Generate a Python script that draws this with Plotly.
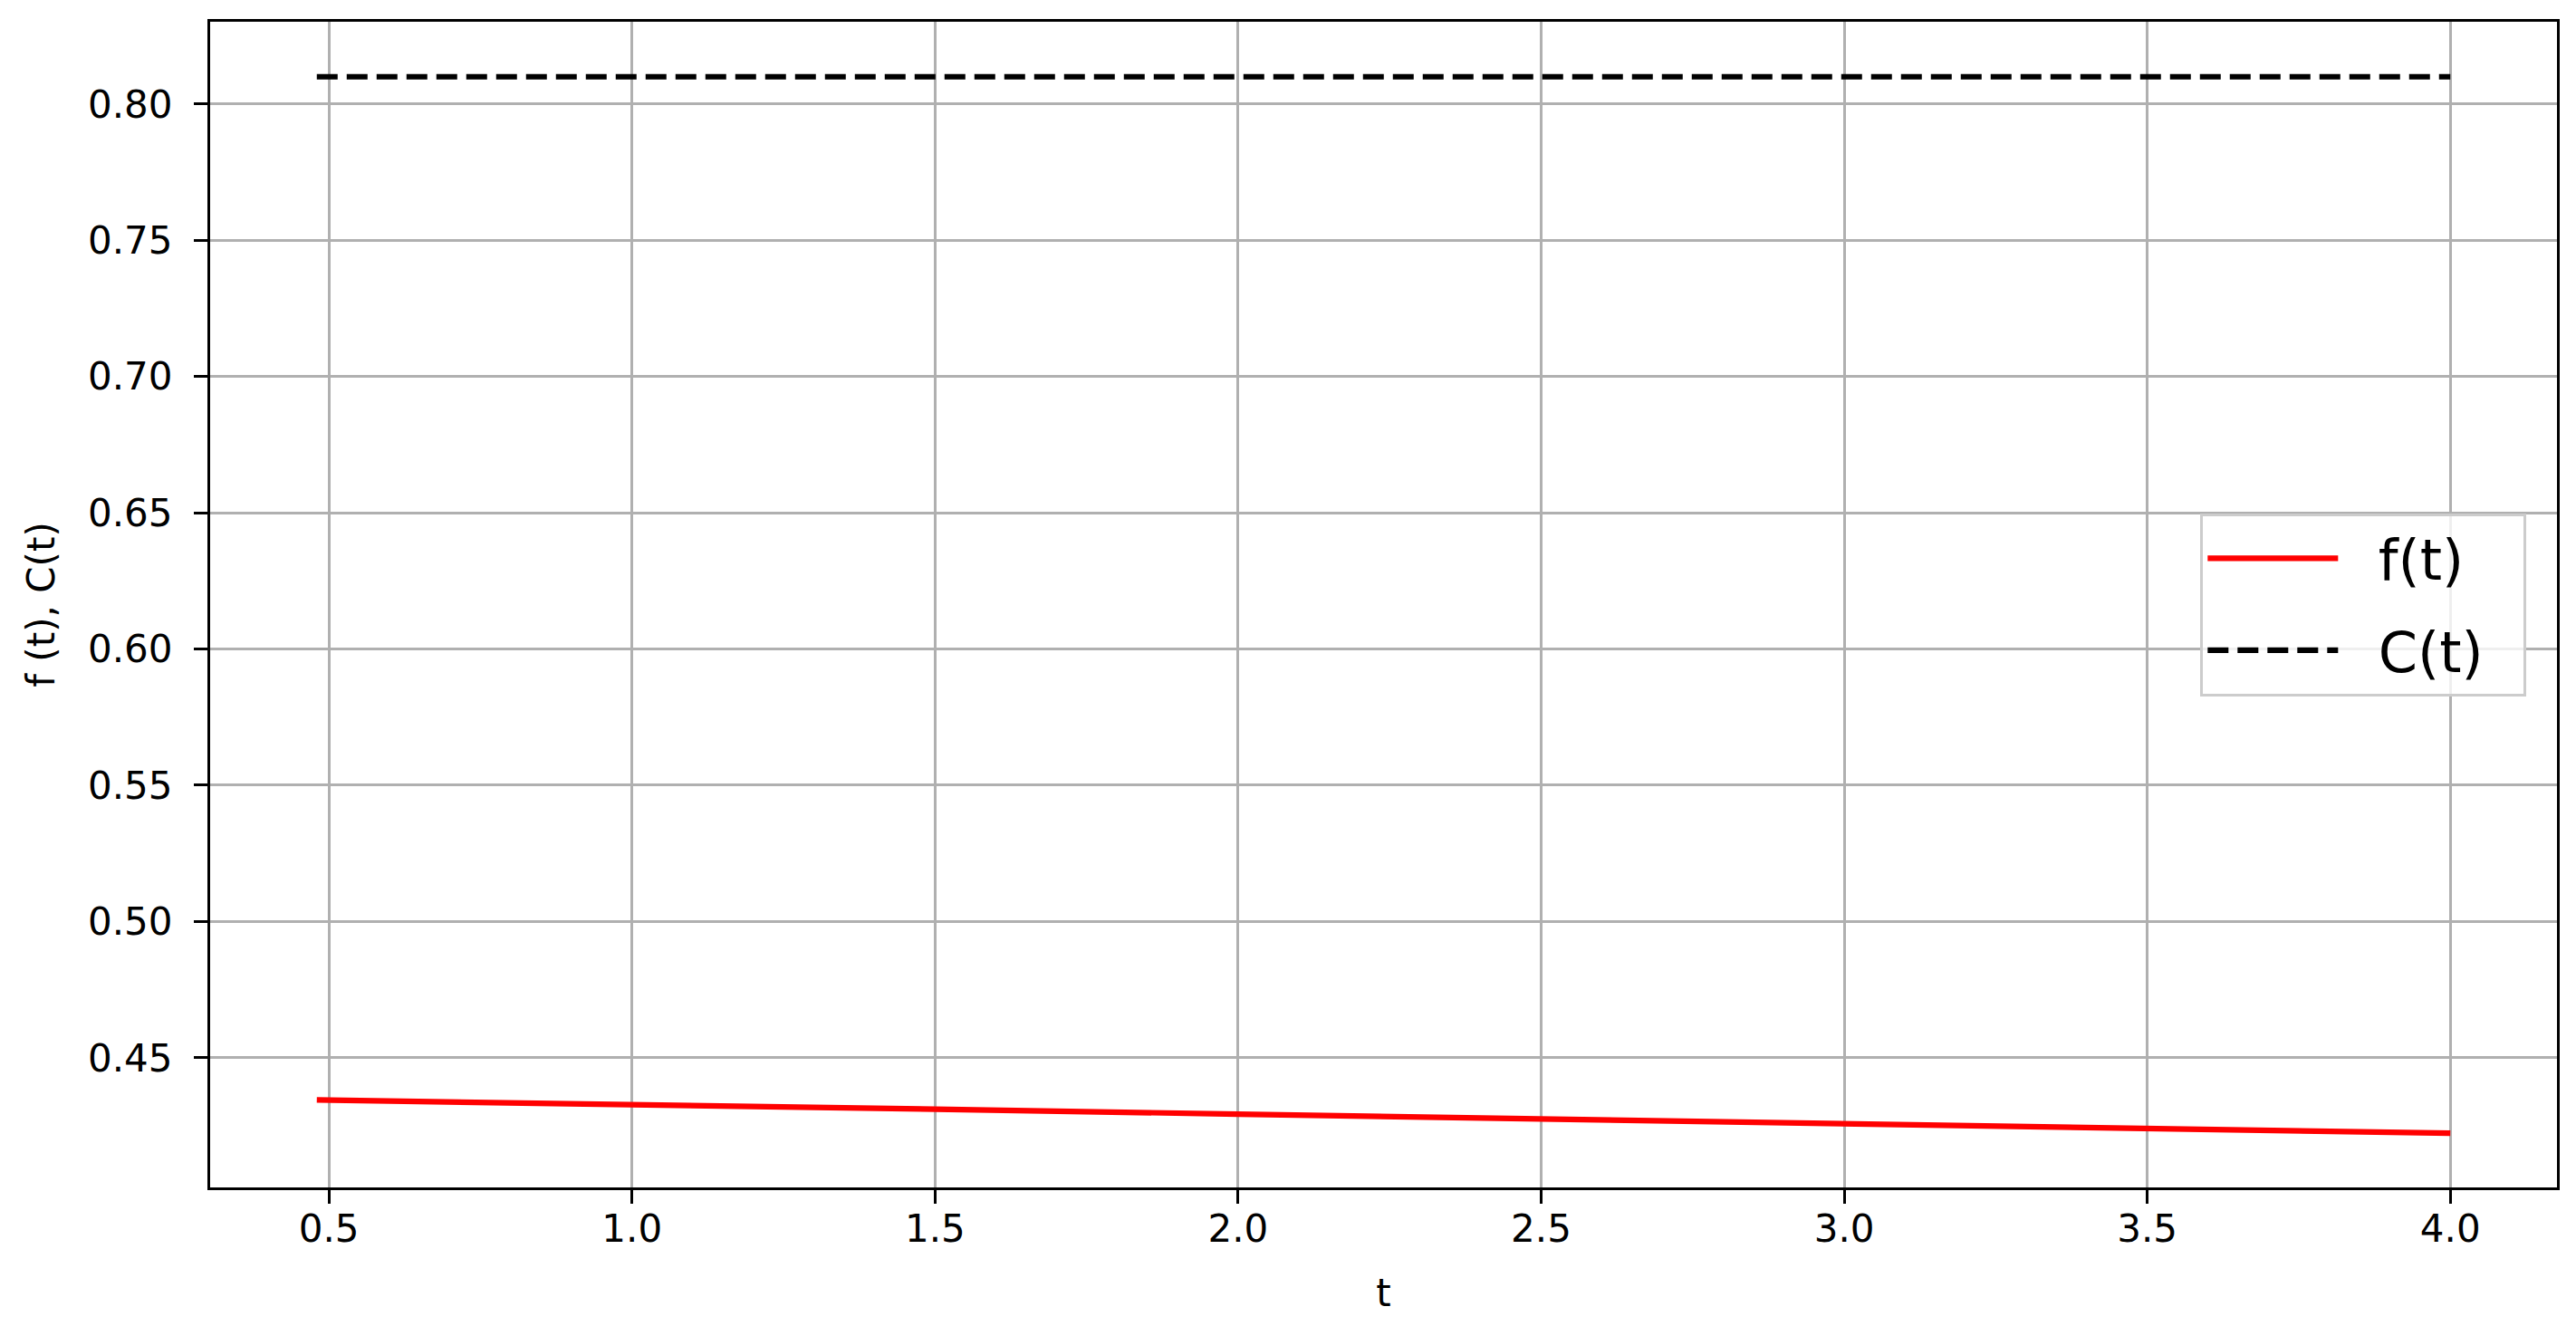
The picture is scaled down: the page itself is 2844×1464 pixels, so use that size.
import plotly.graph_objects as go

# data
t_vals = [0.48, 1.0, 1.5, 2.0, 2.5, 3.0, 3.5, 4.0]
f_vals = [0.4345, 0.4329, 0.4311, 0.4293, 0.4275, 0.4257, 0.4240, 0.4223]
c_vals = [0.81, 0.81, 0.81, 0.81, 0.81, 0.81, 0.81, 0.81]

x_ticks = [0.5, 1.0, 1.5, 2.0, 2.5, 3.0, 3.5, 4.0]
y_ticks = [0.45, 0.50, 0.55, 0.60, 0.65, 0.70, 0.75, 0.80]

FONT = "DejaVu Sans"
GAP = "\u00a0\u00a0"  # room between legend line and label, like matplotlib

fig = go.Figure()
fig.add_trace(go.Scatter(x=t_vals, y=f_vals, mode="lines", name=GAP + "f(t)" + GAP,
                         legendgroup="f",
                         line=dict(color="red", width=6.2)))
fig.add_trace(go.Scatter(x=t_vals, y=c_vals, mode="lines", name=GAP + "C(t)" + GAP,
                         legendgroup="c",
                         line=dict(color="black", width=6.2, dash="23px,10px")))

axis_common = dict(
    showline=True, linecolor="black", linewidth=3.3, mirror=True,
    showgrid=True, gridcolor="#b0b0b0", gridwidth=3,
    ticks="outside", ticklen=15, tickwidth=3.3, tickcolor="black",
    tickfont=dict(family=FONT, size=42, color="black"),
    zeroline=False,
)

# the page body has an 8px margin, so the figure is 8px smaller
fig.update_layout(
    width=2836, height=1456,
    margin=dict(l=224, r=21, t=16, b=153),
    paper_bgcolor="white", plot_bgcolor="white",
    font=dict(family=FONT, size=42, color="black"),
    xaxis=dict(axis_common, range=[0.304, 4.176], tickvals=x_ticks,
               tickformat=".1f", ticklabelstandoff=-9,
               title=dict(text="t", font=dict(family=FONT, size=42), standoff=34)),
    yaxis=dict(axis_common, range=[0.4024, 0.8302], tickvals=y_ticks,
               tickformat=".2f", ticklabelstandoff=15,
               title=dict(text="f (t), C(t)", font=dict(family=FONT, size=42), standoff=24)),
    legend=dict(x=0.987, y=0.5, xanchor="right", yanchor="middle",
                bgcolor="rgba(255,255,255,0.8)", bordercolor="#cccccc", borderwidth=3,
                font=dict(family=FONT, size=62, color="black"),
                itemwidth=144, tracegroupgap=18),
    showlegend=True,
)

fig.write_html("out.html")
